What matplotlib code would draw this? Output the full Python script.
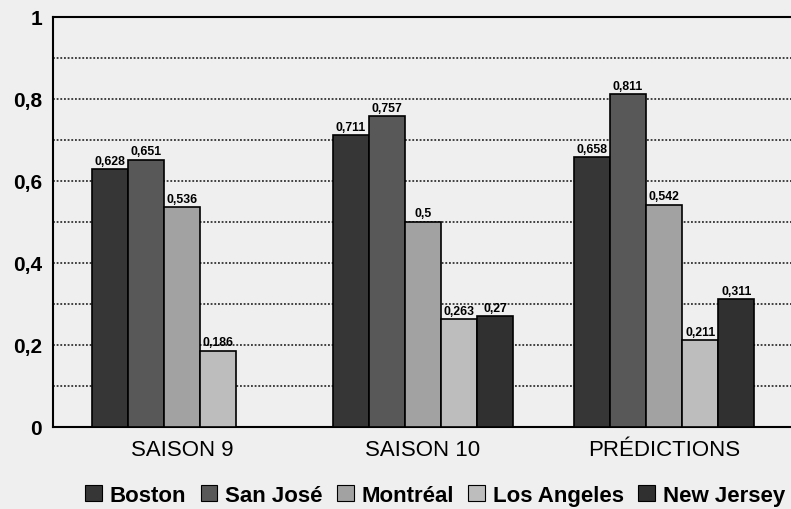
import numpy as np
import matplotlib.pyplot as plt
from matplotlib.ticker import FixedLocator

categories = ['SAISON 9', 'SAISON 10', 'PRÉDICTIONS']
teams = ['Boston', 'San José', 'Montréal', 'Los Angeles', 'New Jersey']
values = {
    'Boston':      [0.628, 0.711, 0.658],
    'San José':    [0.651, 0.757, 0.811],
    'Montréal':    [0.536, 0.5, 0.542],
    'Los Angeles': [0.186, 0.263, 0.211],
    'New Jersey':  [None, 0.27, 0.311],
}
value_labels = {
    'Boston':      ['0,628', '0,711', '0,658'],
    'San José':    ['0,651', '0,757', '0,811'],
    'Montréal':    ['0,536', '0,5', '0,542'],
    'Los Angeles': ['0,186', '0,263', '0,211'],
    'New Jersey':  ['', '0,27', '0,311'],
}
colors = ['#363636', '#585858', '#a2a2a2', '#bdbdbd', '#303030']
ytick_labels = ['0', '0,2', '0,4', '0,6', '0,8', '1']

bg = '#efefef'
fig = plt.figure(figsize=(7.91, 5.10), dpi=100, facecolor=bg)
ax = fig.add_axes([0.067, 0.161, 0.933, 0.804], facecolor=bg)

x = np.arange(len(categories))
w = 0.15
for i, team in enumerate(teams):
    xs = x + (i - 2) * w
    for j, v in enumerate(values[team]):
        if v is None:
            continue
        ax.bar(xs[j], v, w, color=colors[i], edgecolor='black', linewidth=1.2, zorder=3)
        ax.text(xs[j], v + 0.006, value_labels[team][j], ha='center', va='bottom',
                fontsize=8.8, fontweight='bold', family='Liberation Sans', zorder=4)

ax.set_xlim(-0.535, 2.527)
ax.set_ylim(0, 1)
ax.yaxis.set_major_locator(FixedLocator([0, 0.2, 0.4, 0.6, 0.8, 1.0]))
ax.set_yticklabels(ytick_labels, fontsize=15, fontweight='bold', family='Liberation Sans')
ax.set_yticks(np.arange(0.1, 1.0, 0.1), minor=True)
ax.grid(axis='y', which='both', linestyle=(0, (1.2, 1.2)), color='#111111', linewidth=1.1, zorder=0)
ax.set_xticks(x)
ax.set_xticklabels(categories, fontsize=16, family='Liberation Sans')
ax.tick_params(axis='both', which='both', length=0)
ax.tick_params(axis='y', pad=8)
ax.tick_params(axis='x', pad=9)
ax.spines['right'].set_visible(False)
for s in ['left', 'top', 'bottom']:
    ax.spines[s].set_linewidth(1.5)

handles = [plt.Rectangle((0, 0), 1, 1, facecolor=c, edgecolor='black', linewidth=0.8) for c in colors]
fig.legend(handles, teams, loc='center', bbox_to_anchor=(0.55, 0.027), ncol=5, frameon=False,
           prop={'family': 'Liberation Sans', 'weight': 'bold', 'size': 16},
           handlelength=0.75, handleheight=0.75, handletextpad=0.35, columnspacing=0.65)

fig.savefig('out.png', dpi=100, facecolor=bg)
